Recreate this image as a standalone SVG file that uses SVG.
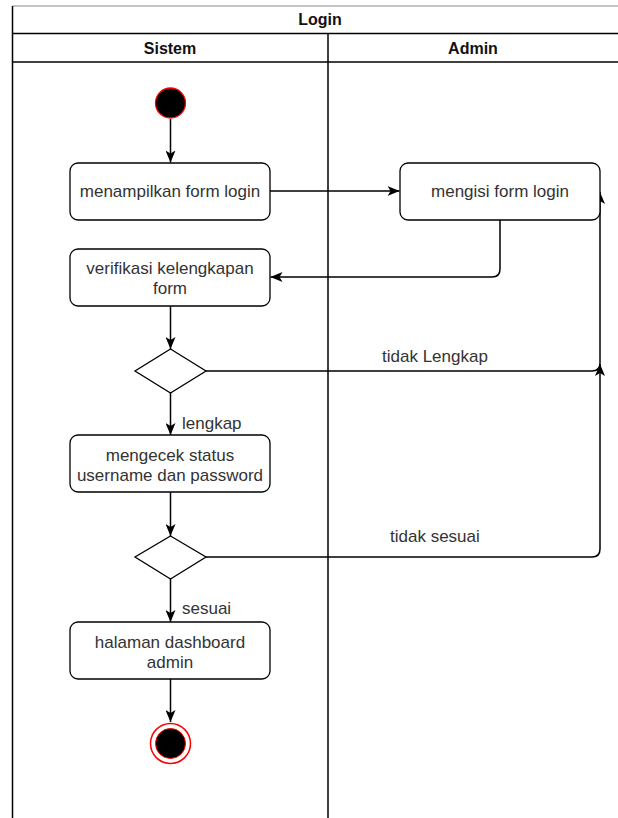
<svg xmlns="http://www.w3.org/2000/svg" width="618" height="818" viewBox="0 0 618 818">
  <style>
    .lane { fill: none; stroke: #000; stroke-width: 1.5; }
    .hdr { font-family: "Liberation Sans", Arial, sans-serif; font-size: 16px; font-weight: bold; fill: #111; text-anchor: middle; }
    .box { fill: #fff; stroke: #000; stroke-width: 1.3; }
    .lbl { font-family: "Liberation Sans", Arial, sans-serif; font-size: 17px; fill: #333; text-anchor: middle; }
    .elbl { font-family: "Liberation Sans", Arial, sans-serif; font-size: 17px; fill: #333; }
    .edge { fill: none; stroke: #000; stroke-width: 1.5; }
    .arr { marker-end: url(#arrow); }
  </style>
  <defs>
    <marker id="arrow" viewBox="0 0 12 10" refX="12" refY="5" markerWidth="12" markerHeight="10" markerUnits="userSpaceOnUse" orient="auto">
      <path d="M0,0 L12,5 L0,10 L3,5 Z" fill="#000"/>
    </marker>
  </defs>
  <rect width="618" height="818" fill="#fff"/>

  <!-- pool and lanes -->
  <g id="pool">
    <line x1="12.5" y1="6" x2="618" y2="6" stroke="#888" stroke-width="1"/>
    <line class="lane" x1="12.5" y1="6" x2="12.5" y2="818"/>
    <line class="lane" x1="12.5" y1="33.5" x2="618" y2="33.5"/>
    <line class="lane" x1="12.5" y1="62" x2="618" y2="62"/>
    <line class="lane" x1="328" y1="33.5" x2="328" y2="818"/>
    <text class="hdr" x="320" y="25">Login</text>
    <text class="hdr" x="170" y="54">Sistem</text>
    <text class="hdr" x="473" y="54">Admin</text>
  </g>

  <!-- connectors -->
  <g id="connectors">
    <line class="edge arr" x1="170.5" y1="119" x2="170.5" y2="162.5"/>
    <line class="edge arr" x1="270" y1="191" x2="399.5" y2="191"/>
    <path class="edge arr" d="M500,220 V269 Q500,277 492,277 H270.5"/>
    <line class="edge arr" x1="170.5" y1="306" x2="170.5" y2="349"/>
    <path class="edge arr" d="M206,371 H592 Q600,371 600,363 V192"/>
    <line class="edge arr" x1="170.5" y1="393" x2="170.5" y2="435"/>
    <text class="elbl" x="182" y="429">lengkap</text>
    <text class="elbl" x="382" y="362">tidak Lengkap</text>
    <line class="edge arr" x1="170.5" y1="492" x2="170.5" y2="536"/>
    <path class="edge arr" d="M206,557 H592 Q600,557 600,549 V364"/>
    <text class="elbl" x="390" y="542">tidak sesuai</text>
    <line class="edge arr" x1="170.5" y1="579" x2="170.5" y2="622"/>
    <text class="elbl" x="182" y="614">sesuai</text>
    <line class="edge arr" x1="170.5" y1="679" x2="170.5" y2="722"/>
  </g>

  <!-- nodes -->
  <g id="start">
    <circle cx="170.5" cy="103" r="15" fill="#000" stroke="#f00" stroke-width="1.3"/>
  </g>
  <g id="menampilkan">
    <rect class="box" x="70" y="163" width="200" height="57" rx="8"/>
    <text class="lbl" x="170" y="197">menampilkan form login</text>
  </g>
  <g id="mengisi">
    <rect class="box" x="400" y="163" width="200" height="57" rx="8"/>
    <text class="lbl" x="500" y="197">mengisi form login</text>
  </g>
  <g id="verifikasi">
    <rect class="box" x="70" y="249" width="200" height="57" rx="8"/>
    <text class="lbl" x="170" y="274">verifikasi kelengkapan</text>
    <text class="lbl" x="170" y="294">form</text>
  </g>
  <g id="cek-lengkap">
    <polygon class="box" points="170.5,349 206,371 170.5,393 135,371"/>
  </g>
  <g id="mengecek">
    <rect class="box" x="70" y="435" width="200" height="57" rx="8"/>
    <text class="lbl" x="170" y="461">mengecek status</text>
    <text class="lbl" x="170" y="481">username dan password</text>
  </g>
  <g id="cek-sesuai">
    <polygon class="box" points="170.5,536 206,557 170.5,579 135,557"/>
  </g>
  <g id="dashboard">
    <rect class="box" x="70" y="622" width="200" height="57" rx="8"/>
    <text class="lbl" x="170" y="648">halaman dashboard</text>
    <text class="lbl" x="170" y="668">admin</text>
  </g>
  <g id="end">
    <circle cx="170.5" cy="743.5" r="20" fill="none" stroke="#f00" stroke-width="1.5"/>
    <circle cx="170.5" cy="743.5" r="15" fill="#000" stroke="#f00" stroke-width="1"/>
  </g>
</svg>
